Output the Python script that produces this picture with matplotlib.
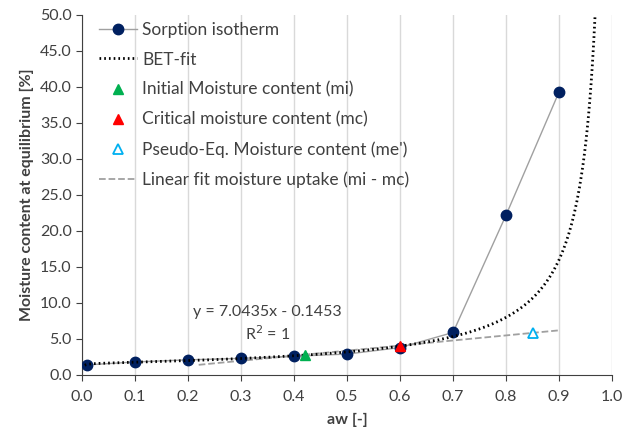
import numpy as np
import matplotlib
matplotlib.use("Agg")
import matplotlib.pyplot as plt

plt.rcParams['font.family'] = ['Lato', 'DejaVu Sans']

# sorption isotherm
aw = [0.01, 0.1, 0.2, 0.3, 0.4, 0.5, 0.6, 0.7, 0.8, 0.9]
moisture = [1.4, 1.8, 2.1, 2.3, 2.6, 2.9, 3.8, 5.9, 22.2, 39.3]

# BET fit parameters
bet_m0 = 1.6
bet_c = 1000.0

# special points
aw_mi, m_mi = 0.42, 2.81
aw_mc, m_mc = 0.60, 4.08
aw_me, m_me = 0.85, 5.8

# linear fit
slope, intercept = 7.0435, -0.1453
lin_x = [0.22, 0.9]

fig = plt.figure(figsize=(6.22, 4.37), dpi=100)
ax = fig.add_axes([0.132, 0.142, 0.852, 0.824])

ax.plot(aw, moisture, '-o', color='#a0a0a0', lw=1, mfc='#002060', mec='#002060',
        ms=7.5, label='Sorption isotherm', zorder=4)

x_bet = np.linspace(0.005, 0.975, 400)
y_bet = bet_m0 * bet_c * x_bet / ((1 - x_bet) * (1 - x_bet + bet_c * x_bet))
ax.plot(x_bet, y_bet, color='black', lw=2.0, ls=(0, (0.6, 1.1)), label='BET-fit', zorder=5)

ax.plot([aw_mi], [m_mi], '^', color='#00b050', ms=7, ls='none',
        label='Initial Moisture content (mi)', zorder=6)
ax.plot([aw_mc], [m_mc], '^', color='#ff0000', ms=7, ls='none',
        label='Critical moisture content (mc)', zorder=6)
ax.plot([aw_me], [m_me], '^', mfc='white', mec='#00b0f0', mew=1.3, ms=7, ls='none',
        label="Pseudo-Eq. Moisture content (me')", zorder=6)

lx = np.array(lin_x)
ax.plot(lx, slope * lx + intercept, '--', color='#a0a0a0', lw=1.3,
        label='Linear fit moisture uptake (mi - mc)', zorder=3)

ax.text(0.35, 8.7, 'y = 7.0435x - 0.1453', ha='center', va='center', fontsize=11.5, color='#404040')
ax.text(0.35, 5.8, 'R$^2$ = 1', ha='center', va='center', fontsize=11.5, color='#404040')

ax.set_xlim(0, 1.0)
ax.set_ylim(0, 50)
ax.set_xticks(np.arange(0, 1.01, 0.1))
ax.set_yticks(np.arange(0, 50.1, 5))
ax.xaxis.set_major_formatter(matplotlib.ticker.FormatStrFormatter('%.1f'))
ax.yaxis.set_major_formatter(matplotlib.ticker.FormatStrFormatter('%.1f'))
ax.tick_params(labelsize=11.5, colors='#404040', length=4)
ax.tick_params(axis='x', pad=7)
ax.grid(axis='x', color='#d9d9d9', lw=1)
ax.set_axisbelow(True)
for s in ['top', 'right']:
    ax.spines[s].set_visible(False)
for s in ['left', 'bottom']:
    ax.spines[s].set_color('#404040')

ax.set_xlabel('aw [-]', fontsize=11.5, fontweight='bold', color='#404040', labelpad=6)
ax.set_ylabel('Moisture content at equilibrium [%]', fontsize=11.5, fontweight='bold', color='#404040')

leg = ax.legend(loc='upper left', frameon=False, fontsize=12.5, handlelength=2.2,
                handletextpad=0.3, labelspacing=0.8, borderaxespad=0.2,
                bbox_to_anchor=(0.012, 1.01))
for t in leg.get_texts():
    t.set_color('#404040')

fig.savefig('out.png', dpi=100)
